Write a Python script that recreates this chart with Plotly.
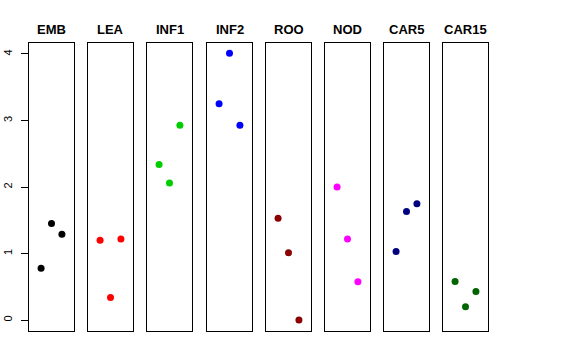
import plotly.graph_objects as go

categories = ["EMB", "LEA", "INF1", "INF2", "ROO", "NOD", "CAR5", "CAR15"]
colors = ["#000000", "#FF0000", "#00CD00", "#0000FF", "#8B0000", "#FF00FF", "#000080", "#006400"]
x_pos = [1, 2, 3]
values = {
    "EMB": [0.78, 1.45, 1.29],
    "LEA": [1.20, 0.34, 1.22],
    "INF1": [2.34, 2.06, 2.93],
    "INF2": [3.25, 4.01, 2.93],
    "ROO": [1.53, 1.01, 0.0],
    "NOD": [2.00, 1.22, 0.575],
    "CAR5": [1.03, 1.63, 1.75],
    "CAR15": [0.58, 0.20, 0.43],
}
y_ticks = [0, 1, 2, 3, 4]

W, H = 576, 360
panel_left = [29, 88, 147, 207, 266, 325, 384, 443]
panel_w = 45
top, bottom = 43, 331

fig = go.Figure()
annotations = []
for i, (cat, col) in enumerate(zip(categories, colors)):
    n = "" if i == 0 else str(i + 1)
    fig.add_trace(go.Scatter(
        x=x_pos, y=values[cat], mode="markers",
        marker=dict(color=col, size=7),
        xaxis="x" + n, yaxis="y" + n, showlegend=False,
    ))
    x0 = panel_left[i] / W
    x1 = (panel_left[i] + panel_w) / W
    fig.layout["xaxis" + n] = dict(
        domain=[x0, x1], range=[-0.16, 4.16], showticklabels=False, ticks="",
        showgrid=False, zeroline=False, showline=True, mirror=True,
        linecolor="black", linewidth=1, anchor="y" + n, fixedrange=True,
        automargin=False,
    )
    ydict = dict(
        domain=[1 - bottom / H, 1 - top / H], range=[-0.165, 4.165],
        showgrid=False, zeroline=False, showline=True, mirror=True,
        linecolor="black", linewidth=1, anchor="x" + n, automargin=False,
    )
    if i == 0:
        ydict.update(tickvals=y_ticks, ticks="outside", ticklen=7, tickcolor="black",
                     tickangle=-90, ticklabelstandoff=5,
                     tickfont=dict(size=11, color="black"))
    else:
        ydict.update(showticklabels=False, ticks="")
    fig.layout["yaxis" + n] = ydict
    annotations.append(dict(
        text="<b>%s</b>" % cat, xref="paper", yref="paper",
        x=(panel_left[i] + panel_w / 2) / W, y=1 - 29.5 / H,
        xanchor="center", yanchor="middle", showarrow=False,
        font=dict(size=13, color="black"),
    ))

fig.update_layout(
    width=W, height=H, margin=dict(l=0, r=0, t=0, b=0),
    paper_bgcolor="white", plot_bgcolor="white",
    font=dict(family="Liberation Sans, Arial, sans-serif", color="black"),
    annotations=annotations,
)
fig.write_html("out.html", config={"displayModeBar": False},
               post_script="document.body.style.margin='0px';")
